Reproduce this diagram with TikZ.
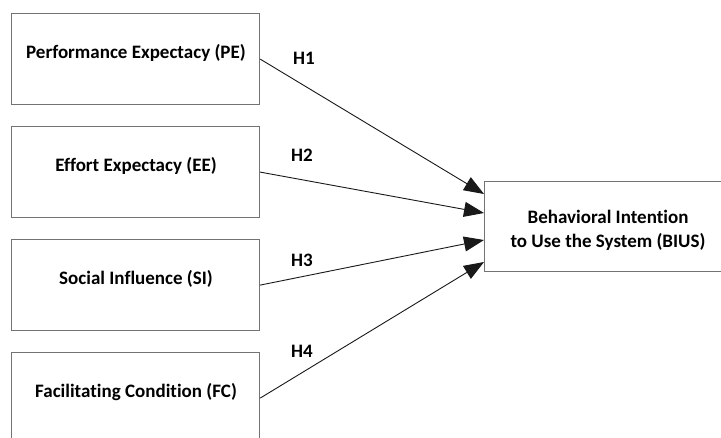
\documentclass[tikz,border=0pt]{standalone}
\usepackage{fontspec}
\setmainfont{Carlito}[Ligatures={NoCommon,TeX}]
\usetikzlibrary{arrows.meta,calc}
\begin{document}
\begin{tikzpicture}[x=1pt,y=-1pt,
  cbox/.style={draw=black!55,line width=1.2pt,minimum width=248pt,minimum height=91pt,inner sep=0pt,anchor=north west},
  ctext/.style={font=\bfseries\fontsize{19}{24}\selectfont,anchor=base,inner sep=0pt},
  hlab/.style={font=\bfseries\fontsize{19}{24}\selectfont,inner sep=0pt},
  conn/.style={draw=black!90,line width=0.9pt,-{Triangle[length=20pt,width=15pt]}}]
\useasboundingbox (0,0) rectangle (721,437);
\clip (0,0) rectangle (721,437);
\fill[white] (0,0) rectangle (721,437);
\node[cbox] (pe) at (11,13) {};
\node[cbox] (ee) at (11,126) {};
\node[cbox] (si) at (11,239) {};
\node[cbox] (fc) at (11,352) {};
\node[cbox,minimum height=90pt] (bius) at (484,181) {};
\node[ctext] (tpe) at (136,58.5) {Performance Expectacy (PE)};
\node[ctext] (tee) at (136,171.5) {Effort Expectacy (EE)};
\node[ctext] (tsi) at (136,284.5) {Social Influence (SI)};
\node[ctext] (tfc) at (136,397.5) {Facilitating Condition (FC)};
\node[ctext,align=center,anchor=center] (tbius) at (608,230) {Behavioral Intention\\to Use the System (BIUS)};
\coordinate (e1) at ($(bius.north west)+(0,13)$);
\coordinate (e2) at ($(bius.north west)+(0,32)$);
\coordinate (e3) at ($(bius.north west)+(0,59)$);
\coordinate (e4) at ($(bius.north west)+(0,81)$);
\draw[conn] (pe.east) -- (e1);
\draw[conn] (ee.east) -- (e2);
\draw[conn] (si.east) -- (e3);
\draw[conn] (fc.east) -- (e4);
\node[hlab] (h1) at (304,58) {H1};
\node[hlab] (h2) at (302,155) {H2};
\node[hlab] (h3) at (302,260) {H3};
\node[hlab] (h4) at (302,351) {H4};
\end{tikzpicture}
\end{document}
